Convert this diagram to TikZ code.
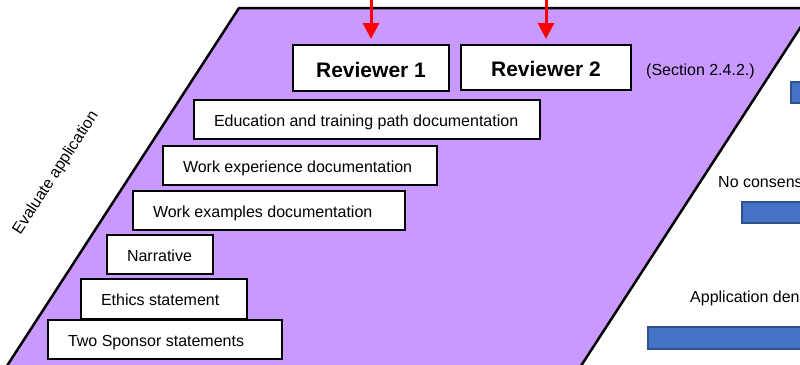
\documentclass[tikz,border=0pt]{standalone}
\usepackage{fontspec}
\setmainfont{Liberation Sans}
\usetikzlibrary{arrows.meta}
\definecolor{purp}{RGB}{201,153,255}
\definecolor{barblue}{RGB}{68,114,196}
\definecolor{baredge}{RGB}{47,82,143}
\definecolor{arrred}{RGB}{255,0,0}
\newcommand{\docline}[2]{\makebox[#1][l]{#2}}
\begin{document}
\begin{tikzpicture}[x=1pt,y=-1pt,
  doc/.style={draw=black, line width=2.5pt, fill=white, inner xsep=20pt, inner ysep=0pt,
    outer sep=0pt, anchor=north west, text height=13pt, text depth=0pt,
    font=\fontsize{16}{19}\selectfont},
  rev/.style={draw=black, line width=2.5pt, fill=white, inner sep=0pt, outer sep=0pt,
    anchor=north west, text height=18pt, text depth=0pt,
    font=\fontsize{21}{25}\selectfont\bfseries},
  lbl/.style={inner sep=0pt, anchor=west, font=\fontsize{16}{19}\selectfont},
  redarrow/.style={draw=arrred, line width=3pt, -{Triangle[length=16pt,width=16pt]}, shorten >=6pt},
  bar/.style={fill=barblue, draw=baredge, line width=1.2pt},
  panel/.style={fill=purp},
  paneledge/.style={draw=black, line width=2.5pt}]
\useasboundingbox (0,0) rectangle (800,364);
\clip (0,0) rectangle (800,364);
% panel
\fill[panel] (239,8) -- (813,8) -- (577,372) -- (3,372) -- cycle;
\draw[paneledge] (3,372) -- (239,8) -- (813,8) -- (577,372);
% reviewers
\node[rev, minimum width=156pt, minimum height=46pt] (r1) at (293,45) {Reviewer 1};
\node[rev, minimum width=170pt, minimum height=45pt] (r2) at (461,45) {Reviewer 2};
\coordinate (a1) at (371,-5);
\coordinate (a2) at (546,-5);
\draw[redarrow] (a1) -- (r1.north);
\draw[redarrow] (a2) -- (r2.north);
\node[lbl] (sec) at (646,71) {(Section 2.4.2.)};
% documents
\node[doc, minimum height=39pt] (edu) at (194,100) {\docline{306pt}{Education and training path documentation}};
\node[doc, minimum height=39pt] (wexp) at (163,146) {\docline{234pt}{Work experience documentation}};
\node[doc, minimum height=39pt] (wex) at (133,191) {\docline{232pt}{Work examples documentation}};
\node[doc, minimum height=39pt] (narr) at (107,235) {\docline{66pt}{Narrative}};
\node[doc, minimum height=40pt] (eth) at (81,279) {\docline{126pt}{Ethics statement}};
\node[doc, minimum height=39pt] (two) at (48,320) {\docline{194pt}{Two Sponsor statements}};
% side label
\node[inner sep=0pt, rotate=57, font=\fontsize{16}{19}\selectfont] (eval) at (56,173) {Evaluate application};
% right side
\node[lbl] (nocons) at (718,182) {No consensus};
\node[lbl] (denied) at (690,298) {Application denied};
\draw[bar] (791,82) rectangle (830,103);
\draw[bar] (742,202) rectangle (830,223);
\draw[bar] (648,327) rectangle (830,349);
\end{tikzpicture}
\end{document}
